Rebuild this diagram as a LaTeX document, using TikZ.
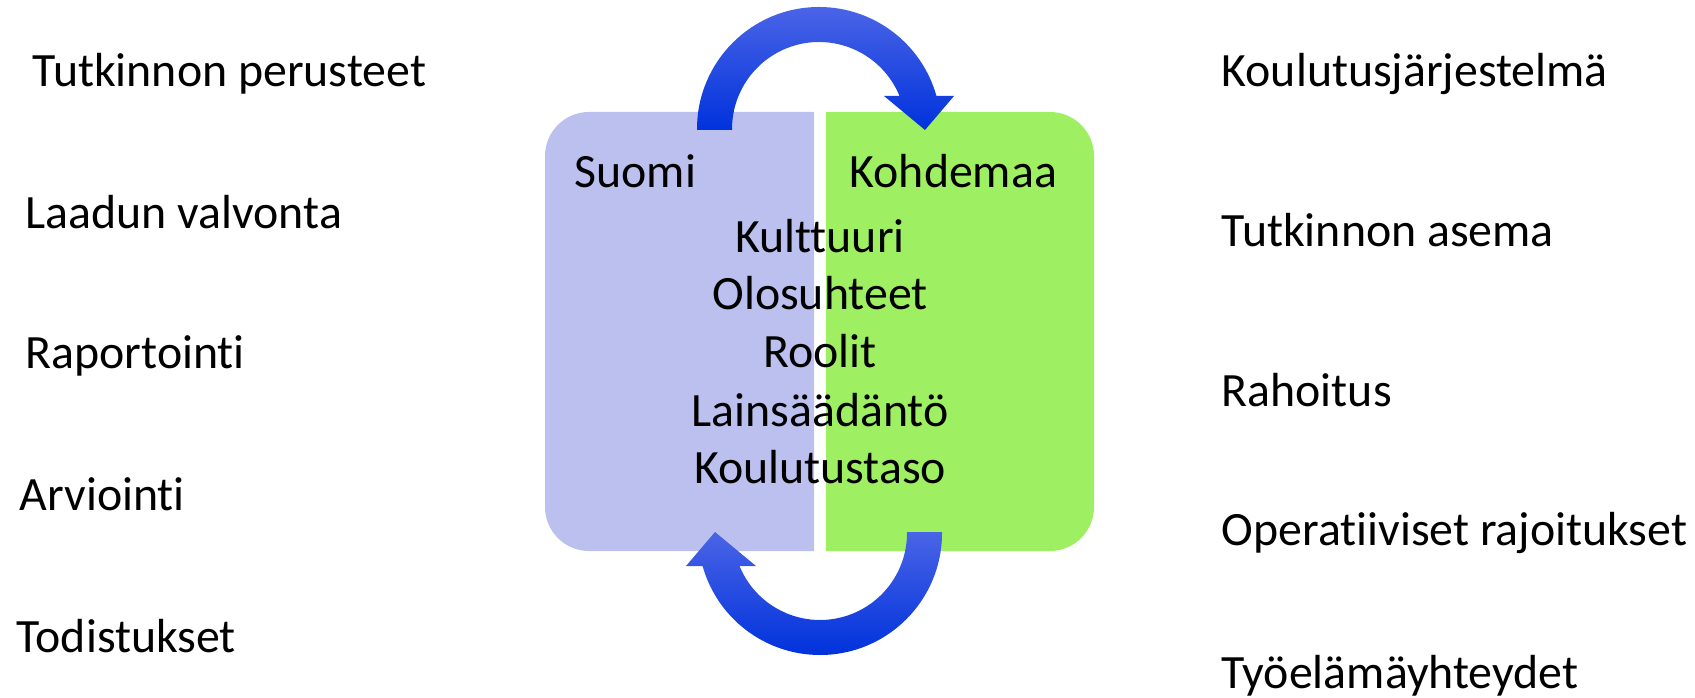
\documentclass[tikz,border=0pt]{standalone}
\usepackage{fontspec}
\setmainfont[Ligatures={NoCommon}]{Carlito}
\definecolor{suomiclr}{RGB}{188,192,238}
\definecolor{kohdeclr}{RGB}{158,240,98}
\definecolor{nuolitop}{RGB}{74,100,230}
\definecolor{nuolimid}{RGB}{8,60,230}
\definecolor{nuolibot}{RGB}{0,50,220}
\begin{document}
\begin{tikzpicture}[x=0.01cm,y=0.01cm,
  teksti/.style={inner sep=0pt,anchor=base west,font=\fontsize{13.6}{16}\selectfont},
  keski/.style={inner sep=0pt,anchor=base,font=\fontsize{13.6}{16}\selectfont},
  nuoli/.style={top color=nuolitop,middle color=nuolimid,bottom color=nuolibot}]
\useasboundingbox (0,0) rectangle (1695,697);
\fill[suomiclr] (814,585) -- (589,585) arc[start angle=90,end angle=180,radius=44]
  -- (545,190) arc[start angle=180,end angle=270,radius=44] -- (814,146) -- cycle;
\fill[kohdeclr] (826,585) -- (1050,585) arc[start angle=90,end angle=0,radius=44]
  -- (1094,190) arc[start angle=0,end angle=-90,radius=44] -- (826,146) -- cycle;
\shade[nuoli] (697,567) -- (697,568) arc[start angle=180,end angle=15.7,radius=122]
  -- (954,601) -- (925,567) -- (884,601) -- (899.5,601)
  arc[start angle=22.3,end angle=180,radius=87] -- (732,567) -- cycle;
\shade[nuoli] (942,165) -- (942,164) arc[start angle=0,end angle=-164.3,radius=122]
  -- (686,131) -- (715,165) -- (756,131) -- (739.5,131)
  arc[start angle=-157.7,end angle=0,radius=87] -- (907,165) -- cycle;
\node[teksti] (suomi) at (574,509) {Suomi};
\node[teksti] (kohde) at (849,509) {Kohdemaa};
\node[keski] (kult) at (820,444) {Kulttuuri};
\node[keski] (olo) at (820,387) {Olosuhteet};
\node[keski] (rool) at (820,329) {Roolit};
\node[keski] (lain) at (820,271) {Lainsäädäntö};
\node[keski] (kouluts) at (820,214) {Koulutustaso};
\node[teksti] (l1) at (32,610) {Tutkinnon perusteet};
\node[teksti] (l2) at (25,468) {Laadun valvonta};
\node[teksti] (l3) at (25,328) {Raportointi};
\node[teksti] (l4) at (19,186) {Arviointi};
\node[teksti] (l5) at (16,45) {Todistukset};
\node[teksti] (r1) at (1221,610) {Koulutusjärjestelmä};
\node[teksti] (r2) at (1221,450) {Tutkinnon asema};
\node[teksti] (r3) at (1221,290) {Rahoitus};
\node[teksti] (r4) at (1221,152) {Operatiiviset rajoitukset};
\node[teksti] (r5) at (1221,9) {Työelämäyhteydet};
\end{tikzpicture}
\end{document}
